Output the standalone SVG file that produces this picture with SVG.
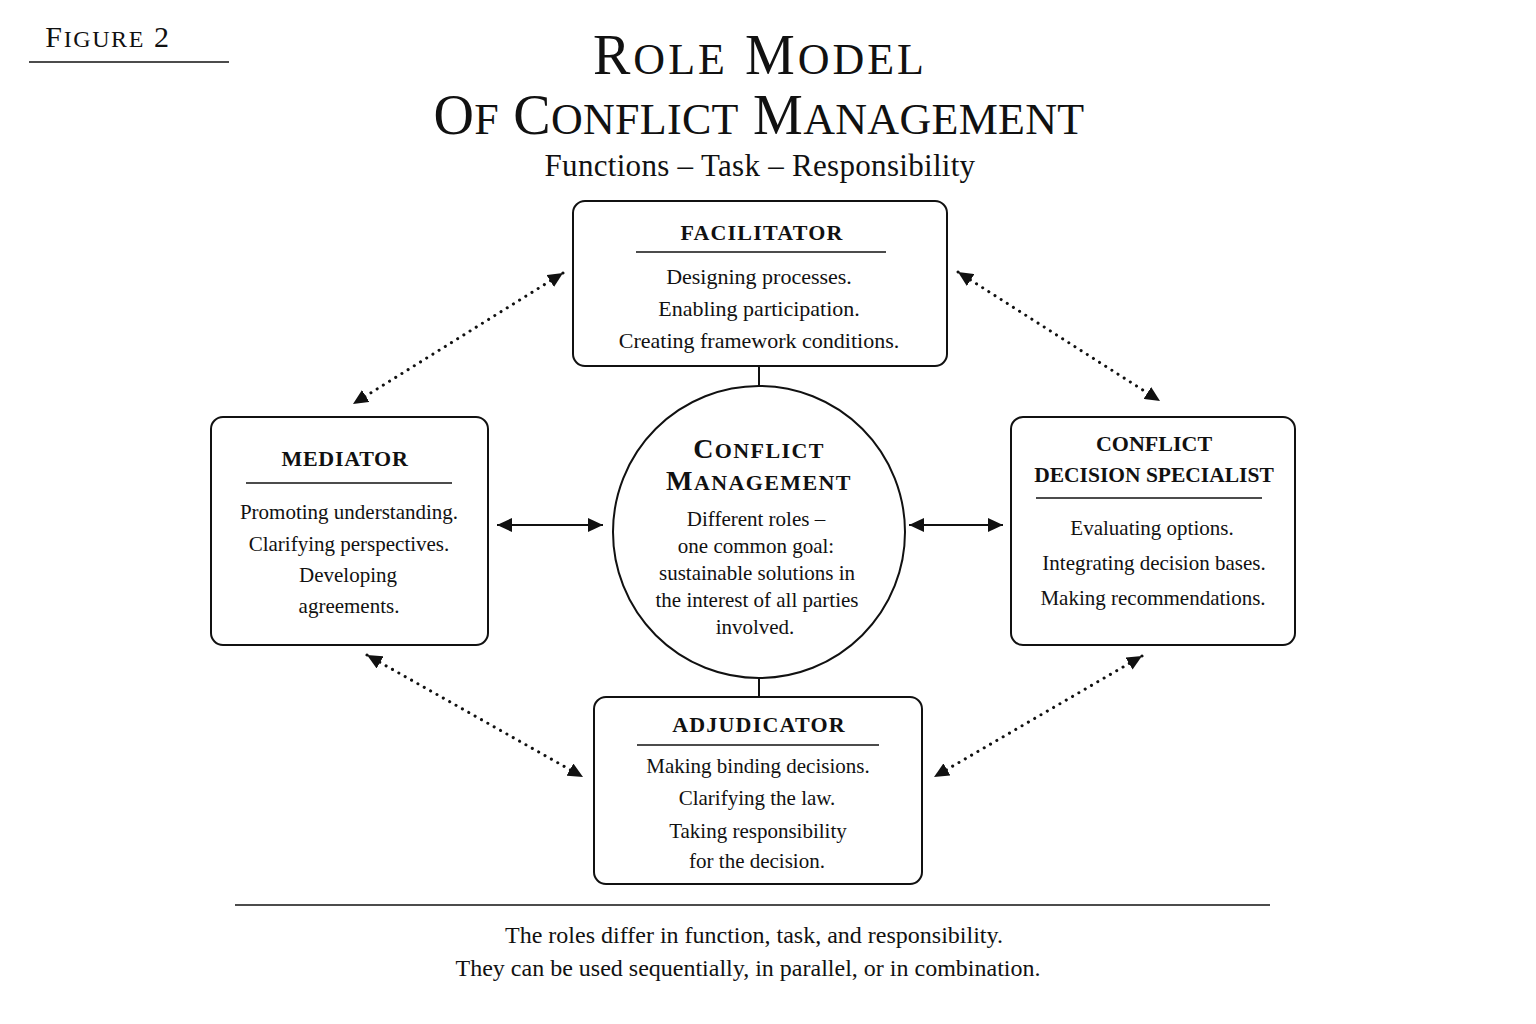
<svg xmlns="http://www.w3.org/2000/svg" width="1536" height="1024" viewBox="0 0 1536 1024">
<style>
text{font-family:"Liberation Serif","DejaVu Serif",serif;fill:#111;text-anchor:middle}
.box{fill:#fff;stroke:#111;stroke-width:2}
.rule{stroke:#111;stroke-width:1.6}
.body{font-size:21px}
.head{font-size:22px;font-weight:bold}
.solid{stroke:#111;stroke-width:2;fill:none}
.dot{stroke:#111;stroke-width:3;stroke-dasharray:0.1 7.2;stroke-linecap:round;fill:none}
</style>
<defs>
<marker id="ah" markerUnits="userSpaceOnUse" markerWidth="16" markerHeight="14" refX="15" refY="7" orient="auto-start-reverse">
<path d="M0,0 L15,7 L0,14 Z" fill="#111"/>
</marker>
</defs>
<rect width="1536" height="1024" fill="#fff"/>

<g id="figure-label">
<text x="108" y="47" style="font-size:30px;letter-spacing:1.6px">F<tspan style="font-size:24px">IGURE</tspan> 2</text>
<line class="rule" x1="29" y1="62" x2="229" y2="62"/>
</g>

<g id="title">
<text x="760" y="74" style="font-size:56px;letter-spacing:3px">R<tspan style="font-size:44px">OLE</tspan> M<tspan style="font-size:44px">ODEL</tspan></text>
<text x="759" y="134" style="font-size:56px;letter-spacing:0.3px">O<tspan style="font-size:44px">F</tspan> C<tspan style="font-size:44px">ONFLICT</tspan> M<tspan style="font-size:44px">ANAGEMENT</tspan></text>
<text x="760" y="176" style="font-size:31px;letter-spacing:0.3px">Functions – Task – Responsibility</text>
</g>

<g id="connectors">
<line class="solid" x1="759" y1="366" x2="759" y2="387"/>
<line class="solid" x1="759" y1="678" x2="759" y2="697"/>
<line class="solid" x1="497" y1="525" x2="603" y2="525" marker-start="url(#ah)" marker-end="url(#ah)"/>
<line class="solid" x1="909" y1="525" x2="1003" y2="525" marker-start="url(#ah)" marker-end="url(#ah)"/>
<line class="dot" x1="563" y1="273" x2="353" y2="404" marker-start="url(#ah)" marker-end="url(#ah)"/>
<line class="dot" x1="958" y1="272" x2="1160" y2="401" marker-start="url(#ah)" marker-end="url(#ah)"/>
<line class="dot" x1="367" y1="655" x2="583" y2="777" marker-start="url(#ah)" marker-end="url(#ah)"/>
<line class="dot" x1="1142" y1="656" x2="934" y2="777" marker-start="url(#ah)" marker-end="url(#ah)"/>
</g>

<g id="facilitator">
<rect class="box" x="573" y="201" width="374" height="165" rx="12"/>
<text class="head" x="762" y="240" style="letter-spacing:1.2px">FACILITATOR</text>
<line class="rule" x1="636" y1="252" x2="886" y2="252"/>
<text class="body" x="759" y="284" style="font-size:22px">Designing processes.</text>
<text class="body" x="759" y="316" style="font-size:22px">Enabling participation.</text>
<text class="body" x="759" y="348" style="font-size:22px">Creating framework conditions.</text>
</g>

<g id="conflict-management">
<circle class="box" cx="759" cy="532" r="146"/>
<text x="759" y="458" style="font-size:28px;font-weight:bold;letter-spacing:1.4px">C<tspan style="font-size:22px">ONFLICT</tspan></text>
<text x="759" y="490" style="font-size:28px;font-weight:bold;letter-spacing:1.4px">M<tspan style="font-size:22px">ANAGEMENT</tspan></text>
<text class="body" x="756" y="526">Different roles –</text>
<text class="body" x="756" y="553">one common goal:</text>
<text class="body" x="757" y="580">sustainable solutions in</text>
<text class="body" x="757" y="607">the interest of all parties</text>
<text class="body" x="755" y="634">involved.</text>
</g>

<g id="mediator">
<rect class="box" x="211" y="417" width="277" height="228" rx="12"/>
<text class="head" x="345" y="466" style="letter-spacing:0.7px">MEDIATOR</text>
<line class="rule" x1="246" y1="483" x2="452" y2="483"/>
<text class="body" x="349" y="519">Promoting understanding.</text>
<text class="body" x="349" y="551">Clarifying perspectives.</text>
<text class="body" x="348" y="582">Developing</text>
<text class="body" x="349" y="613">agreements.</text>
</g>

<g id="conflict-decision-specialist">
<rect class="box" x="1011" y="417" width="284" height="228" rx="12"/>
<text class="head" x="1154" y="451">CONFLICT</text>
<text class="head" x="1154" y="482" style="font-size:21.5px">DECISION SPECIALIST</text>
<line class="rule" x1="1036" y1="498" x2="1262" y2="498"/>
<text class="body" x="1152" y="535">Evaluating options.</text>
<text class="body" x="1154" y="570">Integrating decision bases.</text>
<text class="body" x="1153" y="605">Making recommendations.</text>
</g>

<g id="adjudicator">
<rect class="box" x="594" y="697" width="328" height="187" rx="12"/>
<text class="head" x="759" y="732" style="letter-spacing:1.2px">ADJUDICATOR</text>
<line class="rule" x1="637" y1="745" x2="879" y2="745"/>
<text class="body" x="758" y="773">Making binding decisions.</text>
<text class="body" x="757" y="805">Clarifying the law.</text>
<text class="body" x="758" y="838">Taking responsibility</text>
<text class="body" x="757" y="868">for the decision.</text>
</g>

<g id="footer">
<line class="rule" x1="235" y1="905" x2="1270" y2="905"/>
<text x="754" y="943" style="font-size:24px">The roles differ in function, task, and responsibility.</text>
<text x="748" y="976" style="font-size:24px">They can be used sequentially, in parallel, or in combination.</text>
</g>
</svg>
